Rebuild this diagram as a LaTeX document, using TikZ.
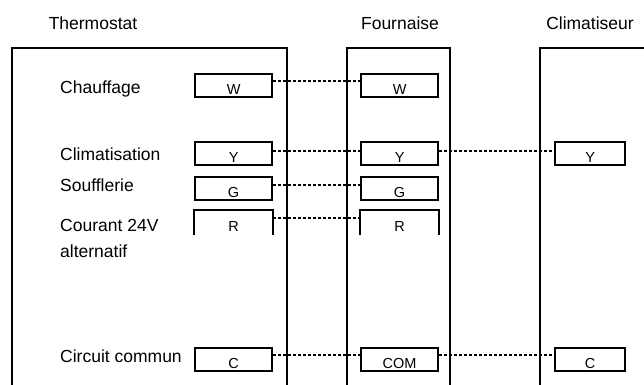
\documentclass[tikz,border=0pt]{standalone}
\usepackage{fontspec}
\setmainfont{Liberation Sans}
\usepackage{tikz}

\tikzset{
  unit/.style={line width=1.2pt},
  terminal/.style={line width=2.2pt, inner sep=0pt, minimum width=77pt,
    text height=20pt, text depth=3pt, anchor=north west,
    font=\fontsize{14.5}{15}\selectfont},
  label/.style={anchor=base west, align=left, inner sep=0pt,
    font=\fontsize{17.5}{26}\selectfont},
  title/.style={anchor=base, inner sep=0pt, font=\fontsize{17.5}{21}\selectfont},
  wire/.style={line width=2pt, dash pattern=on 3pt off 2pt}
}

\begin{document}
\begin{tikzpicture}[x=1pt,y=-1pt]
\useasboundingbox (0,0) rectangle (644,384);
\clip (0,0) rectangle (644,384);
% units
\draw [unit] (12,400) -- (12,48) -- (287,48) -- (287,400);
\draw [unit] (347,400) -- (347,48) -- (450,48) -- (450,400);
\draw [unit] (540,400) -- (540,48) -- (660,48) -- (660,400);
\node [title] (tthermo) at (93,29) {Thermostat};
\node [title] (tfurn) at (400,29) {Fournaise};
\node [title] (tclim) at (590,29) {Climatiseur};
% thermostat
\node [label] (lW) at (60,93) {Chauffage};
\node [label] (lY) at (60,160) {Climatisation};
\node [label] (lG) at (60,191) {Soufflerie};
\node [label] (lR) at (60,257) {Courant 24V\\alternatif};
\node [label] (lC) at (60,362) {Circuit commun};
\node [terminal, draw] (thW) at (194,73) {W};
\node [terminal, draw] (thY) at (194,141) {Y};
\node [terminal, draw] (thG) at (194,176) {G};
\node [terminal] (thR) at (194,210) {R};
\draw [line width=2.2pt] (thR.south west) -- (thR.north west) -- (thR.north east) -- (thR.south east);
\node [terminal, draw] (thC) at (194,347) {C};
% fournaise
\node [terminal, draw] (fuW) at (360,73) {W};
\node [terminal, draw] (fuY) at (360,141) {Y};
\node [terminal, draw] (fuG) at (360,176) {G};
\node [terminal] (fuR) at (360,210) {R};
\draw [line width=2.2pt] (fuR.south west) -- (fuR.north west) -- (fuR.north east) -- (fuR.south east);
\node [terminal, draw] (fuC) at (360,347) {COM};
% climatiseur
\node [terminal, draw, minimum width=70pt] (clY) at (554,141) {Y};
\node [terminal, draw, minimum width=70pt] (clC) at (554,347) {C};
% wires
\draw [wire] ([yshift=-8pt]thW.north east) -- ([yshift=-8pt]fuW.north west);
\draw [wire] ([yshift=-10pt]thY.north east) -- ([yshift=-10pt]fuY.north west);
\draw [wire] ([yshift=-9pt]thG.north east) -- ([yshift=-9pt]fuG.north west);
\draw [wire] ([yshift=-8pt]thR.north east) -- ([yshift=-8pt]fuR.north west);
\draw [wire] ([yshift=-8pt]thC.north east) -- ([yshift=-8pt]fuC.north west);
\draw [wire] ([yshift=-10pt]fuY.north east) -- ([yshift=-10pt]clY.north west);
\draw [wire] ([yshift=-8pt]fuC.north east) -- ([yshift=-8pt]clC.north west);
\end{tikzpicture}
\end{document}
